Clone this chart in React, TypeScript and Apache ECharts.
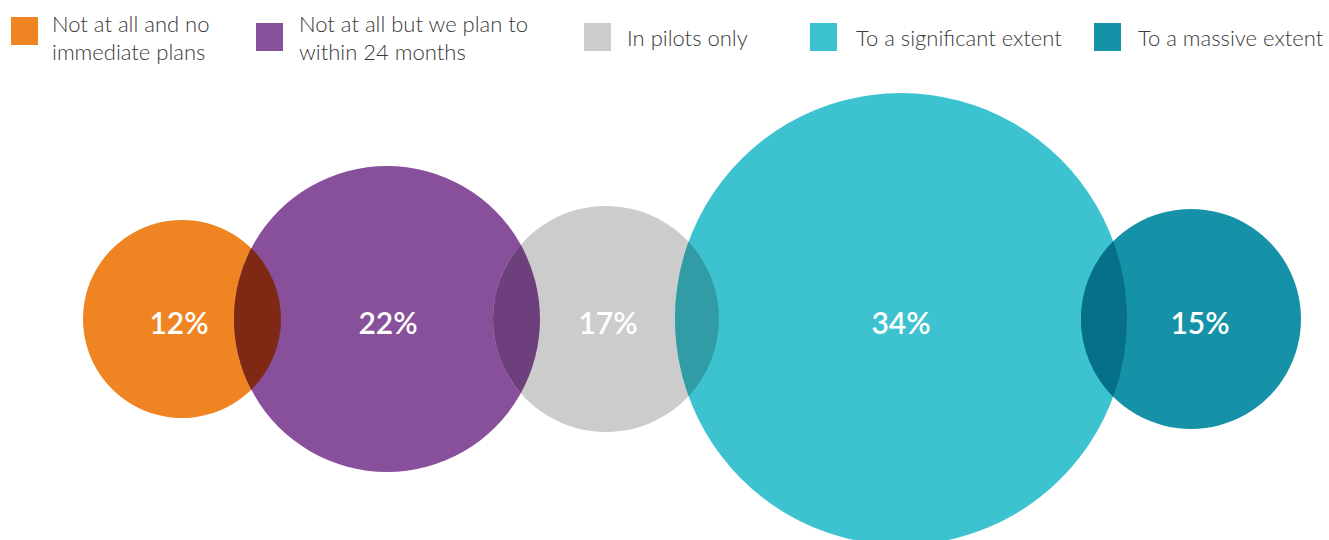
import React, { useEffect, useRef } from 'react';
import * as echarts from 'echarts';

// ---- data ----
const categories = [
  'Not at all and no immediate plans',
  'Not at all but we plan to within 24 months',
  'In pilots only',
  'To a significant extent',
  'To a massive extent',
];
const legendLabels = [
  'Not at all and no\nimmediate plans',
  'Not at all but we plan to\nwithin 24 months',
  'In pilots only',
  'To a significant extent',
  'To a massive extent',
];
const values = [12, 22, 17, 34, 15];

// ---- layout (bubble centres / radii in axis units = px) ----
const bubbleX = [182, 387, 606, 901, 1191];
const bubbleR = [99, 153, 113, 226, 110];
const labelShift = [-3, 1, 2, 0, 9];
const CENTER_Y = 319;
const colors = ['#ee8422', '#884f9b', '#cccccc', '#3dc3d0', '#1592a7'];
const legendSquareX = [11, 256, 584, 810, 1094];
const legendSquareY = [17, 23, 23, 23, 23];
const legendTextX = [52, 299, 627, 856, 1138];

const FONT = 'Lato, "Noto Sans", sans-serif';

function hexToRgb(h: string) {
  const n = parseInt(h.slice(1), 16);
  return [(n >> 16) & 255, (n >> 8) & 255, n & 255];
}
function multiply(a: string, b: string) {
  const A = hexToRgb(a), B = hexToRgb(b);
  const c = A.map((v, i) => Math.round((v * B[i]) / 255));
  return `rgb(${c[0]},${c[1]},${c[2]})`;
}

export default function App() {
  const ref = useRef<HTMLDivElement>(null);
  useEffect(() => {
    if (!ref.current) return;
    const chart = echarts.init(ref.current, null, { renderer: 'svg' });

    const data = values.map((v, i) => [bubbleX[i], CENTER_Y, bubbleR[i], v]);

    const graphic: any[] = [];
    legendLabels.forEach((lab, i) => {
      graphic.push({
        type: 'rect',
        left: legendSquareX[i],
        top: legendSquareY[i],
        shape: { width: 27, height: 28 },
        style: { fill: colors[i] },
      });
      const twoLine = lab.indexOf('\n') >= 0;
      graphic.push({
        type: 'text',
        left: legendTextX[i],
        top: twoLine ? 9 : 23,
        style: {
          text: lab,
          fill: '#3a3a3a',
          fontSize: 22,
          fontFamily: FONT,
          fontWeight: 300,
          lineHeight: 28,
        },
      });
    });

    chart.setOption({
      animation: false,
      grid: { left: 0, right: 0, top: 0, bottom: 0 },
      xAxis: { type: 'value', min: 0, max: 1329, show: false },
      yAxis: { type: 'value', min: 0, max: 540, inverse: true, show: false },
      graphic,
      series: [
        {
          type: 'custom',
          name: 'bubbles',
          data,
          renderItem: (params: any, api: any) => {
            const i = params.dataIndex;
            const c = api.coord([api.value(0), api.value(1)]);
            const r = api.size([api.value(2), 0])[0];
            const children: any[] = [
              {
                type: 'circle',
                shape: { cx: c[0], cy: c[1], r },
                style: { fill: colors[i] },
              },
            ];
            if (i > 0) {
              const pc = api.coord([bubbleX[i - 1], CENTER_Y]);
              const pr = api.size([bubbleR[i - 1], 0])[0];
              const d = c[0] - pc[0];
              const a = (d * d + pr * pr - r * r) / (2 * d);
              const h = Math.sqrt(Math.max(pr * pr - a * a, 0));
              const tx = pc[0] + a;
              const ty = c[1] - h;
              const by = c[1] + h;
              const pathData = `M${tx} ${ty} A${pr} ${pr} 0 0 1 ${tx} ${by} A${r} ${r} 0 0 1 ${tx} ${ty} Z`;
              children.push({
                type: 'path',
                shape: { pathData },
                style: { fill: multiply(colors[i - 1], colors[i]) },
              });
            }
            children.push({
              type: 'text',
              x: c[0] + labelShift[i],
              y: c[1] + 3,
              style: {
                text: api.value(3) + '%',
                fill: '#ffffff',
                fontSize: 30,
                fontWeight: 600,
                fontFamily: FONT,
                align: 'center',
                verticalAlign: 'middle',
              },
            });
            return { type: 'group', children };
          },
        },
      ],
    });
    return () => chart.dispose();
  }, []);
  return (
    <div
      ref={ref}
      aria-label={categories.join(', ')}
      style={{ position: 'fixed', left: 0, top: 0, width: 1329, height: 540, background: '#fff' }}
    />
  );
}
